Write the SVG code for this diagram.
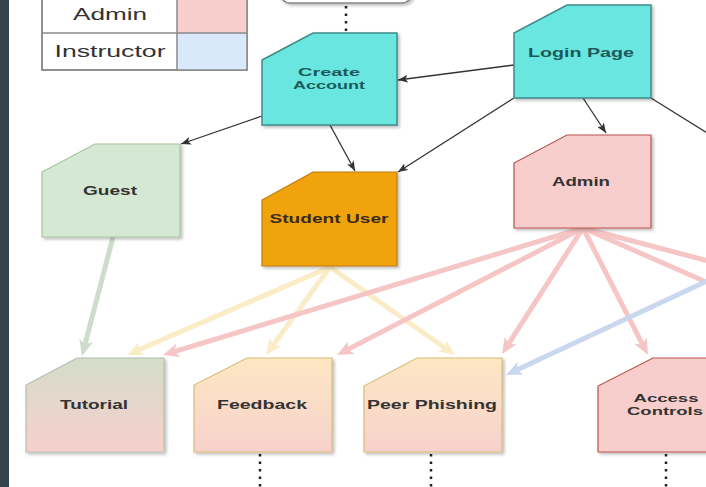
<svg xmlns="http://www.w3.org/2000/svg" width="706" height="487" viewBox="0 0 706 487">
<defs>
<style>
.lbl{font-family:"Liberation Sans",Arial,sans-serif;font-weight:bold;font-size:13px;fill:#333;text-anchor:middle}
.two{font-size:11px}
.tl{fill:#1b5a5a}
.leg{font-family:"Liberation Sans",Arial,sans-serif;font-size:16px;fill:#333;text-anchor:middle}
.dark{stroke:#333;stroke-width:1.3;fill:none}
.pale{stroke-width:5;fill:none}
.dots{stroke:#222;stroke-width:2.5;stroke-dasharray:2.5 5;fill:none}
.teal{fill:#6be6e0;stroke:#3f8a8a;stroke-width:1.5}
</style>
<filter id="sh" x="-10%" y="-10%" width="130%" height="130%">
<feDropShadow dx="2" dy="2" stdDeviation="1.5" flood-color="#000" flood-opacity="0.25"/>
</filter>
<linearGradient id="gTut" x1="0" y1="0" x2="0" y2="1">
<stop offset="0" stop-color="#d4ddcb"/><stop offset="1" stop-color="#f8cfcc"/>
</linearGradient>
<linearGradient id="gPeach" x1="0" y1="0" x2="0" y2="1">
<stop offset="0" stop-color="#fde7c3"/><stop offset="1" stop-color="#f7d1cc"/>
</linearGradient>
<marker id="mDark" markerUnits="userSpaceOnUse" markerWidth="10" markerHeight="8" refX="10" refY="4" orient="auto">
<path d="M0,0 L10,4 L0,8 L2.5,4 z" fill="#333"/>
</marker>
<marker id="mG" markerUnits="userSpaceOnUse" markerWidth="16" markerHeight="14" refX="6" refY="7" orient="auto">
<path d="M0,0 L16,7 L0,14 L4,7 z" fill="#cddccb"/>
</marker>
<marker id="mY" markerUnits="userSpaceOnUse" markerWidth="16" markerHeight="14" refX="6" refY="7" orient="auto">
<path d="M0,0 L16,7 L0,14 L4,7 z" fill="#faecc6"/>
</marker>
<marker id="mP" markerUnits="userSpaceOnUse" markerWidth="16" markerHeight="14" refX="6" refY="7" orient="auto">
<path d="M0,0 L16,7 L0,14 L4,7 z" fill="#f6c6c6"/>
</marker>
<marker id="mB" markerUnits="userSpaceOnUse" markerWidth="16" markerHeight="14" refX="6" refY="7" orient="auto">
<path d="M0,0 L16,7 L0,14 L4,7 z" fill="#cad8ef"/>
</marker>
</defs>
<rect x="0" y="0" width="706" height="487" fill="#ffffff"/>
<rect x="0" y="0" width="9" height="487" fill="#33444f"/>

<g id="legend">
<rect x="42" y="-5" width="205" height="75" fill="#fff" stroke="#888" stroke-width="1.5"/>
<rect x="177" y="-5" width="70" height="38" fill="#f8cecc"/>
<rect x="177" y="33" width="70" height="37" fill="#dae8fc"/>
<rect x="42" y="-5" width="205" height="75" fill="none" stroke="#888" stroke-width="1.5"/>
<line x1="42" y1="33" x2="247" y2="33" stroke="#888" stroke-width="1.5"/>
<line x1="177" y1="-5" x2="177" y2="70" stroke="#888" stroke-width="1.5"/>
<text class="leg" x="110" y="20" textLength="74" lengthAdjust="spacingAndGlyphs">Admin</text>
<text class="leg" x="110" y="57" textLength="111" lengthAdjust="spacingAndGlyphs">Instructor</text>
</g>

<g id="connectors">
<line class="dots" x1="346" y1="6" x2="346" y2="33"/>
<line class="dots" x1="260" y1="454" x2="260" y2="487"/>
<line class="dots" x1="431" y1="454" x2="431" y2="487"/>
<line class="dots" x1="666" y1="454" x2="666" y2="487"/>

<line class="pale" stroke="#cddccb" x1="113" y1="237" x2="84.5" y2="346.3" marker-end="url(#mG)"/>
<line class="pale" stroke="#faecc6" x1="330" y1="267" x2="136.2" y2="351" marker-end="url(#mY)"/>
<line class="pale" stroke="#faecc6" x1="330" y1="267" x2="271.9" y2="346.9" marker-end="url(#mY)"/>
<line class="pale" stroke="#faecc6" x1="330" y1="267" x2="446.8" y2="349.2" marker-end="url(#mY)"/>
<line class="pale" stroke="#f6c6c6" x1="583" y1="228" x2="172.6" y2="352.1" marker-end="url(#mP)"/>
<line class="pale" stroke="#f6c6c6" x1="583" y1="228" x2="345.9" y2="350.4" marker-end="url(#mP)"/>
<line class="pale" stroke="#f6c6c6" x1="583" y1="228" x2="507.4" y2="345.6" marker-end="url(#mP)"/>
<line class="pale" stroke="#f6c6c6" x1="583" y1="228" x2="643.4" y2="346.1" marker-end="url(#mP)"/>
<line class="pale" stroke="#f6c6c6" x1="583" y1="228" x2="720" y2="264"/>
<line class="pale" stroke="#f6c6c6" x1="583" y1="228" x2="720" y2="288"/>
<line class="pale" stroke="#cad8ef" x1="720" y1="275" x2="515.1" y2="370.8" marker-end="url(#mB)"/>

<line class="dark" x1="514" y1="65" x2="398" y2="80" marker-end="url(#mDark)"/>
<line class="dark" x1="262" y1="116" x2="181" y2="144" marker-end="url(#mDark)"/>
<line class="dark" x1="330" y1="125" x2="355" y2="171" marker-end="url(#mDark)"/>
<line class="dark" x1="514" y1="98" x2="398" y2="172" marker-end="url(#mDark)"/>
<line class="dark" x1="583" y1="98" x2="606" y2="133" marker-end="url(#mDark)"/>
<line class="dark" x1="651" y1="98" x2="712" y2="136"/>
</g>

<g id="top-box">
<rect x="280" y="-20" width="132" height="23" rx="10" fill="#fff" stroke="#888" stroke-width="1.5" filter="url(#sh)"/>
</g>

<g id="create-account">
<polygon class="teal" points="313,33 397,33 397,125 262,125 262,60" filter="url(#sh)"/>
<text class="lbl two tl" x="329" y="76" textLength="62" lengthAdjust="spacingAndGlyphs">Create</text>
<text class="lbl two tl" x="329" y="89" textLength="72" lengthAdjust="spacingAndGlyphs">Account</text>
</g>

<g id="login-page">
<polygon class="teal" points="567,5 651,5 651,98 514,98 514,33" filter="url(#sh)"/>
<text class="lbl tl" x="581" y="57" textLength="106" lengthAdjust="spacingAndGlyphs">Login Page</text>
</g>

<g id="guest">
<polygon points="95,144 180,144 180,237 42,237 42,172" fill="#d5e8d4" stroke="#a6c49a" stroke-width="1.2" filter="url(#sh)"/>
<text class="lbl" x="110" y="195" textLength="54" lengthAdjust="spacingAndGlyphs">Guest</text>
</g>

<g id="student-user">
<polygon points="313,172 397,172 397,266 262,266 262,200" fill="#f0a30a" stroke="#c07a10" stroke-width="1.2" filter="url(#sh)"/>
<text class="lbl" x="329" y="223" textLength="119" lengthAdjust="spacingAndGlyphs" style="fill:#3a2a1a">Student User</text>
</g>

<g id="admin">
<polygon points="567,135 651,135 651,228 514,228 514,163" fill="#f8cecc" stroke="#b85450" stroke-width="1.2" filter="url(#sh)"/>
<text class="lbl" x="581" y="186" textLength="58" lengthAdjust="spacingAndGlyphs">Admin</text>
</g>

<g id="tutorial">
<polygon points="77,358 164,358 164,452 26,452 26,385" fill="url(#gTut)" stroke="#b5bfae" stroke-width="1.2" filter="url(#sh)"/>
<text class="lbl" x="94" y="409" textLength="68" lengthAdjust="spacingAndGlyphs">Tutorial</text>
</g>

<g id="feedback">
<polygon points="247,358 332,358 332,452 194,452 194,385" fill="url(#gPeach)" stroke="#d8bd78" stroke-width="1.2" filter="url(#sh)"/>
<text class="lbl" x="262" y="409" textLength="90" lengthAdjust="spacingAndGlyphs">Feedback</text>
</g>

<g id="peer-phishing">
<polygon points="417,358 502,358 502,452 364,452 364,386" fill="url(#gPeach)" stroke="#d8bd78" stroke-width="1.2" filter="url(#sh)"/>
<text class="lbl" x="432" y="409" textLength="130" lengthAdjust="spacingAndGlyphs">Peer Phishing</text>
</g>

<g id="access-controls">
<polygon points="653,358 740,358 740,452 598,452 598,386" fill="#f8cecc" stroke="#b85450" stroke-width="1.2" filter="url(#sh)"/>
<text class="lbl two" x="666" y="402" textLength="65" lengthAdjust="spacingAndGlyphs">Access</text>
<text class="lbl two" x="665" y="415" textLength="76" lengthAdjust="spacingAndGlyphs">Controls</text>
</g>
</svg>
